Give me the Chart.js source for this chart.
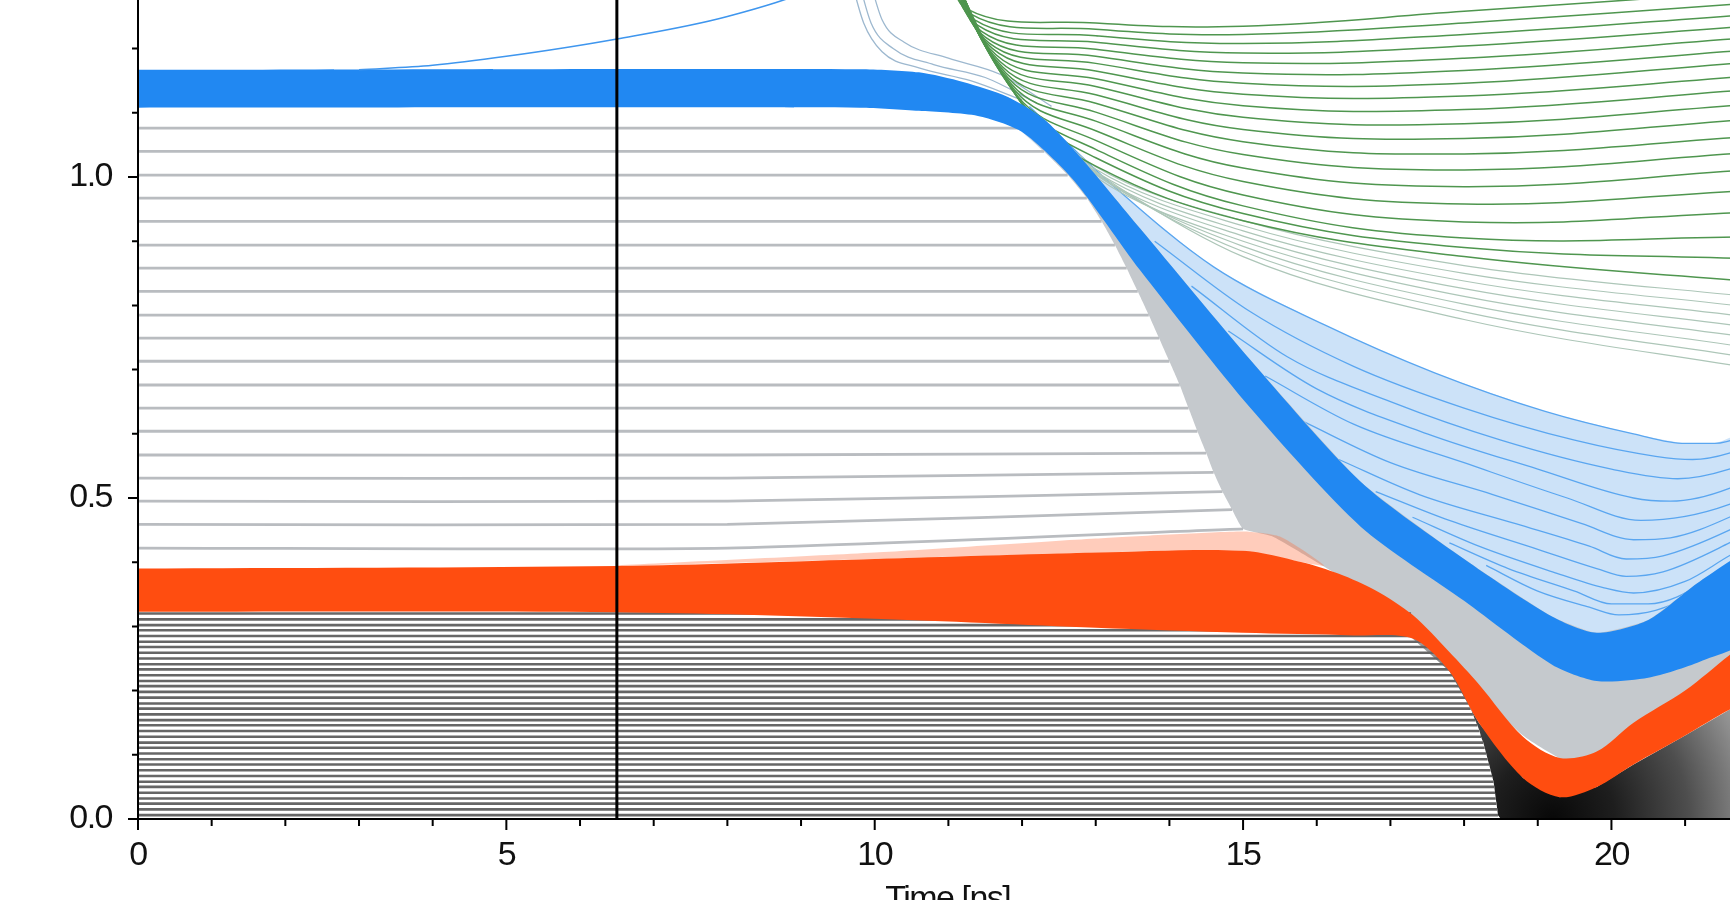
<!DOCTYPE html>
<html>
<head>
<meta charset="utf-8">
<script src="https://cdn.jsdelivr.net/npm/chart.js@4.4.1/dist/chart.umd.min.js"></script>
<style>
  html, body { margin: 0; padding: 0; background: #fff; overflow: hidden; }
  #frame { position: relative; width: 1730px; height: 900px; overflow: hidden; background: #fff; }
  #plot { position: absolute; left: 0; top: 0; }
</style>
</head>
<body>
<div id="frame"><canvas id="plot" width="1758" height="1000"></canvas></div>
<script>
// ---- values (time in ns) ----
const xMajorTicks = [0, 5, 10, 15, 20];
const xMinorTicks = [1, 2, 3, 4, 6, 7, 8, 9, 11, 12, 13, 14, 16, 17, 18, 19, 21];
const yMajorTicks = [0, 0.5, 1.0];
const yMinorTicks = [0.1, 0.2, 0.3, 0.4, 0.6, 0.7, 0.8, 0.9, 1.1, 1.2];
const markerTime = 6.5;

// dark bundle at the bottom: start level and where each line stops
const darkLevels = [0.006, 0.015, 0.024, 0.032, 0.041, 0.050, 0.058, 0.067, 0.076, 0.085, 0.093, 0.102, 0.111,
  0.119, 0.128, 0.137, 0.146, 0.154, 0.163, 0.172, 0.180, 0.189, 0.198, 0.207, 0.215, 0.224, 0.233, 0.241,
  0.250, 0.259, 0.268, 0.276, 0.285, 0.294, 0.302, 0.311, 0.320];
const darkEndTimes = [18.46, 18.45, 18.44, 18.43, 18.42, 18.41, 18.40, 18.38, 18.36, 18.34, 18.32, 18.30, 18.28,
  18.26, 18.23, 18.21, 18.18, 18.15, 18.12, 18.09, 18.06, 18.02, 17.99, 17.95, 17.91, 17.87, 17.82, 17.78,
  17.73, 17.68, 17.62, 17.56, 17.50, 17.44, 17.38, 17.33, 17.28];
const darkDipTime = 19.2;

// light grey lines in the middle
const greyLevels = [0.422, 0.459, 0.495, 0.531, 0.567, 0.604, 0.640, 0.676, 0.713, 0.749, 0.785, 0.822,
  0.858, 0.894, 0.931, 0.967, 1.003, 1.040, 1.076];
const greyEndTimes = [15.0, 14.85, 14.72, 14.6, 14.5, 14.38, 14.26, 14.14, 14.0, 13.86, 13.72, 13.57,
  13.42, 13.26, 13.08, 12.88, 12.62, 12.3, 11.95];
const greyEndLevels = [0.452, 0.482, 0.51, 0.54, 0.57, 0.604, 0.640, 0.676, 0.713, 0.749, 0.785, 0.822,
  0.858, 0.894, 0.931, 0.967, 1.003, 1.040, 1.076];
const greyBandFloor = [[15.4, 0.44], [16, 0.4], [17, 0.33], [18, 0.22], [18.8, 0.13], [19.4, 0.09], [20, 0.11],
  [21, 0.19], [22, 0.27]];

// orange band
const orangeTop = [[0, 0.39], [6.5, 0.394], [10, 0.405], [13, 0.415], [15, 0.418], [15.8, 0.4], [16.3, 0.382],
  [16.8, 0.356], [17.3, 0.318], [17.8, 0.26], [18.2, 0.21], [18.8, 0.128], [19.3, 0.095], [19.8, 0.105],
  [20.3, 0.15], [21, 0.2], [21.6, 0.255], [22, 0.29]];
const orangeBottom = [[0, 0.323], [6.5, 0.322], [10, 0.312], [13, 0.298], [15, 0.29], [16.5, 0.286], [17.3, 0.281],
  [17.8, 0.23], [18.2, 0.15], [18.8, 0.064], [19.3, 0.034], [19.8, 0.05], [20.3, 0.085], [21, 0.13],
  [21.6, 0.17], [22, 0.19]];
const orangeFanTop = [[6.5, 0.395], [10, 0.415], [13, 0.437], [15, 0.448], [15.5, 0.44], [16.1, 0.395]];

// blue band
const blueUpper = [[0, 1.167], [9.8, 1.168], [10.6, 1.163], [11.2, 1.148], [11.8, 1.125], [12.3, 1.09], [12.8, 1.03],
  [13.6, 0.92], [15.1, 0.715], [16.6, 0.525], [18.0, 0.405], [19.2, 0.315], [19.8, 0.29], [20.5, 0.31],
  [21.2, 0.37], [22, 0.42]];
const blueLower = [[0, 1.108], [9.8, 1.108], [10.6, 1.103], [11.4, 1.095], [12.0, 1.07], [12.7, 0.995], [13.6, 0.855],
  [15.1, 0.64], [16.6, 0.455], [18.0, 0.34], [19.2, 0.24], [19.8, 0.215], [20.5, 0.22], [21.2, 0.245],
  [22, 0.29]];
const thinBlue = [[3.0, 1.167], [4.0, 1.174], [5.0, 1.188], [6.5, 1.215], [8.0, 1.25], [9.3, 1.3], [9.6, 1.32]];

// blue fan lines between the band and the green fan
const blueFan = [
  [[12.1, 1.11], [13.3, 0.98], [14.6, 0.86], [16.1, 0.77], [17.6, 0.695], [19.1, 0.635], [20.3, 0.6], [21.0, 0.585], [21.4, 0.585], [22, 0.605]],
  [[13.8, 0.9], [15.1, 0.79], [16.5, 0.705], [18, 0.64], [19.5, 0.59], [20.6, 0.565], [21.1, 0.56], [21.6, 0.57], [22, 0.59]],
  [[14.3, 0.83], [15.6, 0.72], [17, 0.65], [18.5, 0.59], [20, 0.545], [20.9, 0.53], [21.6, 0.545], [22, 0.565]],
  [[14.8, 0.76], [16, 0.67], [17.5, 0.6], [19, 0.545], [20.3, 0.5], [20.8, 0.495], [21.6, 0.515], [22, 0.54]],
  [[15.3, 0.69], [16.5, 0.615], [18, 0.555], [19.4, 0.5], [20.4, 0.465], [21.6, 0.49], [22, 0.515]],
  [[15.8, 0.62], [17, 0.555], [18.4, 0.505], [19.6, 0.46], [20.3, 0.435], [20.8, 0.438], [21.6, 0.47], [22, 0.495]],
  [[16.3, 0.56], [17.4, 0.505], [18.7, 0.46], [19.7, 0.425], [20.2, 0.405], [20.7, 0.41], [21.6, 0.45], [22, 0.475]],
  [[16.8, 0.51], [17.8, 0.465], [19, 0.42], [19.8, 0.39], [20.2, 0.378], [20.7, 0.385], [21.6, 0.43], [22, 0.455]],
  [[17.3, 0.47], [18.2, 0.425], [19.2, 0.385], [19.9, 0.36], [20.3, 0.352], [21, 0.37], [21.6, 0.41], [22, 0.435]],
  [[17.8, 0.43], [18.6, 0.39], [19.5, 0.355], [20, 0.335], [20.5, 0.335], [21.6, 0.39], [22, 0.415]],
  [[18.3, 0.395], [19, 0.355], [19.7, 0.33], [20.1, 0.318], [20.6, 0.325], [21.6, 0.375], [22, 0.4]]
];

// pale lines coming down from the top left
const paleTopLines = [
  [[9.65, 1.32], [9.85, 1.24], [10.1, 1.195], [10.6, 1.17], [11.3, 1.15], [12.0, 1.12]],
  [[9.75, 1.32], [9.95, 1.24], [10.25, 1.2], [10.8, 1.175], [11.5, 1.155], [12.2, 1.115]],
  [[9.9, 1.32], [10.1, 1.245], [10.4, 1.21], [11.0, 1.185], [11.7, 1.16], [12.4, 1.11]]
];
// grey-green lines just under the green fan
const paleFan = [
  [[12.1, 1.1], [13, 1.016], [15, 0.932], [18, 0.862], [22, 0.812]],
  [[12.1, 1.097], [13, 1.012], [15, 0.924], [18, 0.85], [22, 0.796]],
  [[12.13, 1.094], [13, 1.008], [15, 0.916], [18, 0.838], [22, 0.78]],
  [[12.16, 1.09], [13, 1.004], [15, 0.908], [18, 0.826], [22, 0.764]],
  [[12.19, 1.086], [13, 1.0], [15, 0.9], [18, 0.814], [22, 0.748]],
  [[12.22, 1.081], [13.1, 0.996], [15, 0.892], [18, 0.802], [22, 0.732]],
  [[12.25, 1.076], [13.2, 0.99], [15, 0.884], [18, 0.79], [22, 0.716]],
  [[12.28, 1.07], [13.3, 0.985], [15, 0.876], [18, 0.778], [22, 0.70]]
];

// green fan: entry at the top, where each line peels off the bundle, and its level at 13, 15, 18 and 22 ns
const greenEntryTimes = [11.05, 11.04, 11.03, 11.02, 11.0, 10.99, 10.98, 10.97, 10.96, 10.95, 10.94, 10.93,
  10.92, 10.91, 10.9, 10.89, 10.88, 10.87, 10.86];
const greenKneeTimes = [11.25, 11.3, 11.35, 11.4, 11.45, 11.5, 11.55, 11.6, 11.65, 11.7, 11.74, 11.78,
  11.82, 11.86, 11.9, 11.94, 11.98, 12.02, 12.05];
const greenKneeLevels = [1.262, 1.254, 1.245, 1.236, 1.227, 1.218, 1.209, 1.2, 1.19, 1.18, 1.171, 1.162,
  1.153, 1.144, 1.135, 1.126, 1.118, 1.111, 1.105];
const greenAt13 = [1.24, 1.23, 1.22, 1.21, 1.199, 1.188, 1.177, 1.165, 1.153, 1.141, 1.128, 1.115, 1.101,
  1.087, 1.072, 1.057, 1.043, 1.03, 1.017];
const greenAt15 = [1.235, 1.222, 1.208, 1.193, 1.178, 1.162, 1.146, 1.129, 1.111, 1.093, 1.074, 1.055, 1.035,
  1.014, 0.993, 0.972, 0.955, 0.943, 0.932];
const greenAt18 = [1.258, 1.24, 1.222, 1.204, 1.185, 1.166, 1.146, 1.126, 1.105, 1.083, 1.06, 1.036, 1.011,
  0.985, 0.958, 0.93, 0.905, 0.89, 0.876];
const greenAt22 = [1.29, 1.272, 1.254, 1.236, 1.218, 1.199, 1.18, 1.158, 1.137, 1.114, 1.091, 1.064, 1.039,
  1.012, 0.98, 0.946, 0.907, 0.872, 0.836];

// ---- datasets, listed from the back layer to the front layer ----
const datasets = [];
const toXY = pts => pts.map(p => ({x: p[0], y: p[1]}));
function addLine(pts, color, width, extra) {
  datasets.push(Object.assign({
    data: toXY(pts), borderColor: color, borderWidth: width, pointRadius: 0,
    fill: false, cubicInterpolationMode: 'monotone'
  }, extra || {}));
}
function addArea(pts, color, tension) {
  datasets.push({
    data: toXY(pts), borderColor: 'rgba(0,0,0,0)', borderWidth: 0, backgroundColor: color,
    pointRadius: 0, fill: 'shape', tension: tension || 0
  });
}
function pixelsReady(sx) {
  return sx && isFinite(sx.getPixelForValue(0)) && isFinite(sx.getPixelForValue(1)) &&
    sx.getPixelForValue(0) !== sx.getPixelForValue(1);
}

// light blue fan region and its lines
addArea(blueFan[0].concat(blueLower.filter(p => p[0] >= 12.0).reverse()), '#cce2f8', 0.2);
blueFan.forEach(pts => addLine(pts, '#5aa6f0', 1.3));
paleFan.forEach(pts => addLine(pts, '#adc6b8', 1.2));
paleTopLines.forEach(pts => addLine(pts, '#9db8cf', 1.3));
greenEntryTimes.forEach((t, i) => {
  addLine([[t, 1.36], [greenKneeTimes[i], greenKneeLevels[i]], [13, greenAt13[i]], [15, greenAt15[i]],
    [18, greenAt18[i]], [22, greenAt22[i]]], '#4f964f', 1.5, {cubicInterpolationMode: 'default', tension: 0.4});
});

// grey band where the middle lines collapse
const greyEdge = greyEndTimes.map((t, i) => [t, greyEndLevels[i]]).reverse();
addArea([[11.6, 1.1]].concat(greyEdge, greyBandFloor, blueUpper.filter(p => p[0] >= 11.6).reverse()), '#c5c9cd', 0.15);
greyLevels.forEach((lv, i) => {
  addLine([[0, lv], [8, lv], [greyEndTimes[i], greyEndLevels[i]]], '#b9bcc0', 2.8, {cubicInterpolationMode: 'default', tension: 0.2});
});

// solid blue band and the single line leaving it
addArea(blueUpper.concat(blueLower.slice().reverse()), '#2188f2', 0.25);
addLine(thinBlue, '#3f96ee', 1.6);

// dark region where the bottom bundle folds under the orange band
const darkEdge = darkEndTimes.map((t, i) => [t, darkLevels[i]]).reverse();
addArea(darkEdge.concat([[18.5, 0], [22, 0]], orangeBottom.filter(p => p[0] >= 17.3).reverse()), '#333', 0);
datasets[datasets.length - 1].backgroundColor = (c) => {
  const sx = c.chart.scales.x, sy = c.chart.scales.y;
  if (!pixelsReady(sx) || !pixelsReady(sy)) return '#333';
  const cx = sx.getPixelForValue(darkDipTime), cy = sy.getPixelForValue(0);
  const g = c.chart.ctx.createRadialGradient(cx, cy, 0, cx, cy, 210);
  g.addColorStop(0, '#080808');
  g.addColorStop(0.3, '#1e1e1e');
  g.addColorStop(0.65, '#4e4e4e');
  g.addColorStop(1, '#9a9a9a');
  return g;
};
darkLevels.forEach((lv, i) => {
  addLine([[0, lv], [darkEndTimes[i], lv]], '#666', 2.6, {cubicInterpolationMode: 'default', tension: 0});
});

// orange band
addArea(orangeFanTop.concat(orangeTop.filter(p => p[0] >= 6.5 && p[0] <= 16.1).reverse()), 'rgba(255,110,60,0.35)', 0.2);
addArea(orangeTop.concat(orangeBottom.slice().reverse()), '#ff4d10', 0.3);

// vertical marker
addLine([[markerTime, 0], [markerTime, 1.5]], '#000', 3, {cubicInterpolationMode: 'default', tension: 0});

datasets.forEach((d, i) => { d.order = datasets.length - i; });

// axes and tick marks drawn on top of the traces
const axesPlugin = {
  id: 'axes',
  beforeDraw(chart) { chart.ctx.letterSpacing = '-1.5px'; },
  afterDatasetsDraw(chart) {
    const {ctx, chartArea, scales: {x, y}} = chart;
    const x0 = x.getPixelForValue(0), y0 = y.getPixelForValue(0);
    ctx.save();
    ctx.strokeStyle = '#000';
    ctx.lineWidth = 2;
    ctx.beginPath();
    ctx.moveTo(x0 - 10, y0); ctx.lineTo(chartArea.right + 2, y0);
    ctx.moveTo(x0, y0 + 11); ctx.lineTo(x0, chartArea.top - 2);
    xMajorTicks.forEach(v => { const px = x.getPixelForValue(v); ctx.moveTo(px, y0); ctx.lineTo(px, y0 + 11); });
    xMinorTicks.forEach(v => { const px = x.getPixelForValue(v); ctx.moveTo(px, y0); ctx.lineTo(px, y0 + 7); });
    yMajorTicks.forEach(v => { const py = y.getPixelForValue(v); ctx.moveTo(x0, py); ctx.lineTo(x0 - 10, py); });
    yMinorTicks.forEach(v => { const py = y.getPixelForValue(v); ctx.moveTo(x0, py); ctx.lineTo(x0 - 6, py); });
    ctx.stroke();
    ctx.restore();
  },
  afterDraw(chart) { chart.ctx.letterSpacing = '0px'; }
};

Chart.defaults.font.family = "'Liberation Sans', Arial, sans-serif";
Chart.defaults.font.size = 34;
Chart.defaults.color = '#111';

const canvas = document.getElementById('plot');
const chart = new Chart(canvas, {
  type: 'line',
  data: {datasets: datasets},
  options: {
    responsive: false,
    animation: false,
    devicePixelRatio: 1,
    events: [],
    layout: {padding: 0},
    plugins: {legend: {display: false}, tooltip: {enabled: false}},
    scales: {
      x: {
        type: 'linear', min: 0, max: 22,
        grid: {display: false, drawTicks: false},
        border: {display: false},
        afterBuildTicks: s => { s.ticks = xMajorTicks.map(v => ({value: v})); },
        afterFit: s => { s.height = 110; },
        ticks: {padding: 16, autoSkip: false, maxRotation: 0, callback: v => String(v)},
        title: {display: true, text: 'Time [ns]', padding: {top: 0, bottom: 9}, font: {size: 34}}
      },
      y: {
        type: 'linear', min: 0, max: 1.3,
        grid: {display: false, drawTicks: false},
        border: {display: false},
        afterBuildTicks: s => { s.ticks = yMajorTicks.map(v => ({value: v})); },
        afterFit: s => { s.width = 137; },
        ticks: {padding: 26, callback: v => v.toFixed(1)}
      }
    }
  },
  plugins: [axesPlugin]
});

// one ns = 73.74 px and one unit = 642 px, origin placed as in the figure
const area = chart.chartArea;
chart.options.scales.x.max = (area.right - area.left) / 73.74;
chart.options.scales.y.max = (area.bottom - area.top) / 642;
chart.update('none');
canvas.style.left = (137.5 - chart.scales.x.getPixelForValue(0)) + 'px';
canvas.style.top = (818.7 - chart.scales.y.getPixelForValue(0)) + 'px';
</script>
</body>
</html>
